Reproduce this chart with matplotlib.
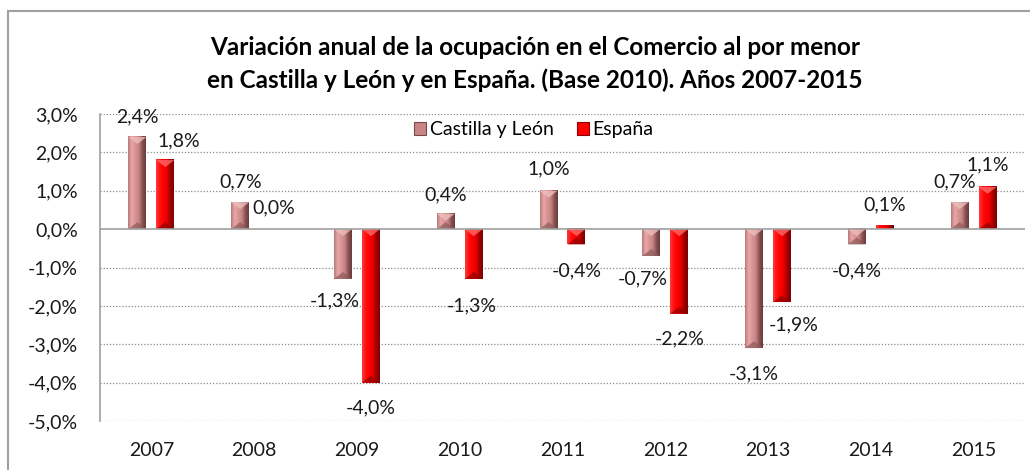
import numpy as np
import matplotlib
matplotlib.use("Agg")
import matplotlib.pyplot as plt
from matplotlib.colors import LinearSegmentedColormap
from matplotlib.patches import Polygon, Rectangle
from matplotlib.transforms import offset_copy

years = ["2007", "2008", "2009", "2010", "2011", "2012", "2013", "2014", "2015"]
cyl = [2.4, 0.7, -1.3, 0.4, 1.0, -0.7, -3.1, -0.4, 0.7]
esp = [1.8, 0.0, -4.0, -1.3, -0.4, -2.2, -1.9, 0.1, 1.1]
series_names = ["Castilla y León", "España"]
yticks = [3, 2, 1, 0, -1, -2, -3, -4, -5]

# label nudges in pixels (dx, dy with dy up), per bar
cyl_off = [(0, 20), (0, 20), (-8, -22), (0, 19), (0, 22), (-9, -23), (0, -26), (0, -26), (-5, 20)]
esp_off = [(13, 19), (6, 21), (0, -25), (-2, -27), (0, -26), (0, -25), (12, -23), (0, 20), (0, 22)]

FONT = "Lato"
plt.rcParams["font.family"] = [FONT, "DejaVu Sans"]
FS = 14

cyl_cmap = LinearSegmentedColormap.from_list(
    "cyl", ["#b97878", "#e8a8a8", "#d99595", "#c98585", "#8a5252", "#6a3a3a"])
esp_cmap = LinearSegmentedColormap.from_list(
    "esp", ["#ff3a3a", "#ff1010", "#ff0000", "#e80000", "#a00000", "#7a0000"])
cyl_top, cyl_bot = "#f0c0c0", "#8a5a5a"
esp_top, esp_bot = "#ff7070", "#900000"

fig = plt.figure(figsize=(10.3, 4.7), dpi=100)
W, H = 1030, 470
ax = fig.add_axes([100 / W, 1 - 421 / H, 925 / W, 307 / H])

# outer chart frame
fig.patches.append(Rectangle((8 / W, -0.05), 1.1, 1 - 11 / H + 0.05, transform=fig.transFigure,
                             facecolor="none", edgecolor="#a0a0a0", linewidth=1.5))

px_per_y = 307 / 8.0
bw = 0.175
sep = 0.136


def draw_bar(x, v, cmap, ctop, cbot):
    if abs(v) < 1e-9:
        return
    x0, x1 = x - bw / 2, x + bw / 2
    y0, y1 = min(0, v), max(0, v)
    grad = np.linspace(0, 1, 64).reshape(1, -1)
    ax.imshow(grad, extent=[x0, x1, y0, y1], cmap=cmap, aspect="auto",
              interpolation="bicubic", zorder=3)
    h = min(7 / px_per_y, (y1 - y0) / 2)
    if (y1 - y0) * px_per_y > 6:
        ax.add_patch(Polygon([(x0, y1), (x1, y1), (x, y1 - h)], closed=True,
                             facecolor=ctop, edgecolor="none", alpha=0.75, zorder=4))
        ax.add_patch(Polygon([(x0, y0), (x1, y0), (x, y0 + h)], closed=True,
                             facecolor=cbot, edgecolor="none", alpha=0.7, zorder=4))


def label(x, v, off):
    txt = f"{v:.1f}%".replace(".", ",")
    tr = offset_copy(ax.transData, fig=fig, x=off[0], y=off[1], units="dots")
    ax.text(x, v, txt, transform=tr, ha="center", va="center", fontsize=FS,
            color="#1a1a1a", zorder=6)


xs = np.arange(len(years))
for i in range(len(years)):
    draw_bar(xs[i] - sep, cyl[i], cyl_cmap, cyl_top, cyl_bot)
    draw_bar(xs[i] + sep, esp[i], esp_cmap, esp_top, esp_bot)
    label(xs[i] - sep, cyl[i], cyl_off[i])
    label(xs[i] + sep, esp[i], esp_off[i])

ax.set_xlim(-0.5, len(years) - 0.5)
ax.set_ylim(-5, 3)
for t in yticks:
    if t != 0:
        ax.axhline(t, color="#8c8c8c", linestyle=(0, (1, 1.5)), linewidth=0.9, zorder=1)
ax.axhline(0, color="#a0a0a0", linewidth=1.2, zorder=5)

for s in ["top", "right", "bottom"]:
    ax.spines[s].set_visible(False)
ax.spines["left"].set_color("#a0a0a0")
ax.spines["left"].set_linewidth(1.2)

ax.set_yticks(yticks)
ax.set_yticklabels([f"{t:.1f}%".replace(".", ",") for t in yticks])
ax.set_xticks(xs)
ax.set_xticklabels(years)
ax.tick_params(axis="y", length=0, pad=16, labelsize=FS, labelcolor="#1a1a1a")
ax.tick_params(axis="x", length=0, pad=15, labelsize=FS, labelcolor="#1a1a1a")

h1 = Rectangle((0, 0), 1, 1, facecolor="#c98585", edgecolor="#7a4a4a", linewidth=0.8)
h2 = Rectangle((0, 0), 1, 1, facecolor="#ff0000", edgecolor="#8b0000", linewidth=0.8)
ax.legend([h1, h2], series_names, loc="center", bbox_to_anchor=(0.469, 0.948), ncol=2,
          frameon=False, fontsize=FS, handlelength=0.6, handleheight=0.6,
          handletextpad=0.2, columnspacing=1.2, borderaxespad=0)

fig.text(535 / W, 1 - 64 / H,
         "Variación anual de la ocupación en el Comercio al por menor\n"
         "en Castilla y León y en España. (Base 2010). Años 2007-2015",
         ha="center", va="center", fontsize=17.5, fontweight="bold",
         linespacing=1.5, color="#000000")

fig.savefig("out.png", dpi=100)
